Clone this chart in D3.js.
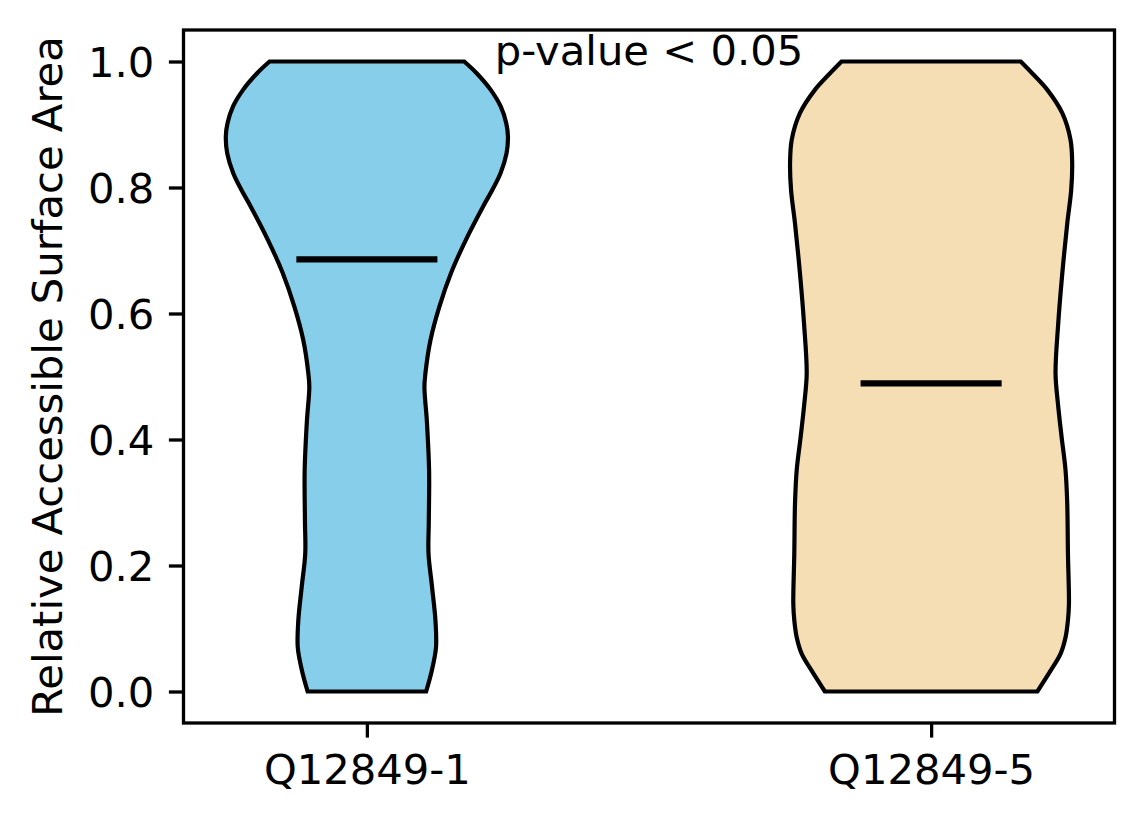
<!DOCTYPE html>
<html>
<head>
<meta charset="utf-8">
<script src="https://cdn.jsdelivr.net/npm/d3@7"></script>
<style>
    body { margin: 0; background: #fff; }
    svg text { font-family: "DejaVu Sans", sans-serif; fill: #000; }
</style>
</head>
<body>
<svg id="chart" width="1144" height="824"></svg>
<script>
const categories = ["Q12849-1", "Q12849-5"];
const positions = [1, 2];
const colors = ["#87CEEB", "#F5DEB3"];
const medians = [0.686, 0.489];

// violin outlines: value and relative density (1 = widest)
const violin1Values = [1.0, 0.981, 0.955, 0.929, 0.902, 0.881, 0.854, 0.823, 0.796, 0.770, 0.717, 0.664, 0.611, 0.558, 0.505, 0.483, 0.430, 0.351, 0.271, 0.219, 0.166, 0.113, 0.070, 0.033, 0.0];
const violin1Density = [0.69, 0.78, 0.878, 0.948, 0.988, 1.0, 0.99, 0.948, 0.889, 0.824, 0.702, 0.596, 0.514, 0.451, 0.415, 0.408, 0.425, 0.441, 0.439, 0.437, 0.462, 0.486, 0.49, 0.46, 0.42];

const violin2Values = [1.0, 0.981, 0.955, 0.918, 0.876, 0.839, 0.796, 0.743, 0.664, 0.584, 0.505, 0.457, 0.404, 0.351, 0.298, 0.219, 0.139, 0.113, 0.086, 0.060, 0.033, 0.0];
const violin2Density = [0.635, 0.718, 0.824, 0.93, 0.988, 1.0, 0.993, 0.965, 0.93, 0.901, 0.882, 0.899, 0.925, 0.953, 0.965, 0.97, 0.977, 0.97, 0.953, 0.918, 0.847, 0.753];

const yTicks = [0, 0.2, 0.4, 0.6, 0.8, 1.0];
const yLabel = "Relative Accessible Surface Area";
const note = "p-value < 0.05";

const violins = [
    { values: violin1Values, density: violin1Density },
    { values: violin2Values, density: violin2Density }
];

const fontSize = 41.7;
const margin = { top: 30, right: 29.5, bottom: 101, left: 183.5 };
const w = 1144 - margin.left - margin.right,
    h = 824 - margin.top - margin.bottom;

const svg = d3.select("#chart")
    .append("g")
    .attr("transform", "translate(" + margin.left + "," + margin.top + ")");

const scaleX = d3.scaleLinear().domain([0.675, 2.325]).range([0, w]);
const scaleY = d3.scaleLinear().domain([-0.05, 1.05]).range([h, 0]);

const halfWidth = 0.25;

violins.forEach((v, i) => {
    const pts = v.values.map((val, k) => ({ y: val, d: v.density[k] }));
    const pos = positions[i];
    const area = d3.area()
        .y(p => scaleY(p.y))
        .x0(p => scaleX(pos - halfWidth * p.d))
        .x1(p => scaleX(pos + halfWidth * p.d))
        .curve(d3.curveCatmullRom.alpha(0.5));

    svg.append("path")
        .datum(pts)
        .attr("d", area)
        .attr("fill", colors[i])
        .attr("stroke", "#000")
        .attr("stroke-width", 4.2)
        .attr("stroke-linejoin", "miter");

    svg.append("line")
        .attr("x1", scaleX(pos - halfWidth / 2))
        .attr("x2", scaleX(pos + halfWidth / 2))
        .attr("y1", scaleY(medians[i]))
        .attr("y2", scaleY(medians[i]))
        .attr("stroke", "#000")
        .attr("stroke-width", 6.2);
});

// axes
const axisY = d3.axisLeft(scaleY)
    .tickValues(yTicks)
    .tickFormat(d3.format(".1f"))
    .tickSize(14.6)
    .tickPadding(14.6)
    .tickSizeOuter(0);

const axisX = d3.axisBottom(scaleX)
    .tickValues(positions)
    .tickFormat((d, i) => categories[i])
    .tickSize(14.6)
    .tickPadding(14.6)
    .tickSizeOuter(0);

const gy = svg.append("g").call(axisY);
const gx = svg.append("g").attr("transform", "translate(0," + h + ")").call(axisX);

[gx, gy].forEach(g => {
    g.select(".domain").remove();
    g.selectAll(".tick line").attr("stroke", "#000").attr("stroke-width", 3.3);
    g.selectAll(".tick text")
        .attr("font-family", "DejaVu Sans")
        .attr("font-size", fontSize)
        .attr("fill", "#000");
});
gy.selectAll(".tick text").attr("dy", "0.36em");
gx.selectAll(".tick text").attr("dy", "0.76em");

// frame
svg.append("rect")
    .attr("width", w)
    .attr("height", h)
    .attr("fill", "none")
    .attr("stroke", "#000")
    .attr("stroke-width", 3.3);

svg.append("text")
    .attr("text-anchor", "middle")
    .attr("transform", "translate(" + (62 - margin.left) + "," + (h / 2) + ") rotate(-90)")
    .attr("font-size", fontSize)
    .text(yLabel);

svg.append("text")
    .attr("text-anchor", "middle")
    .attr("x", scaleX(1.5))
    .attr("y", scaleY(1.0) + 3.5)
    .attr("font-size", fontSize)
    .text(note);
</script>
</body>
</html>
